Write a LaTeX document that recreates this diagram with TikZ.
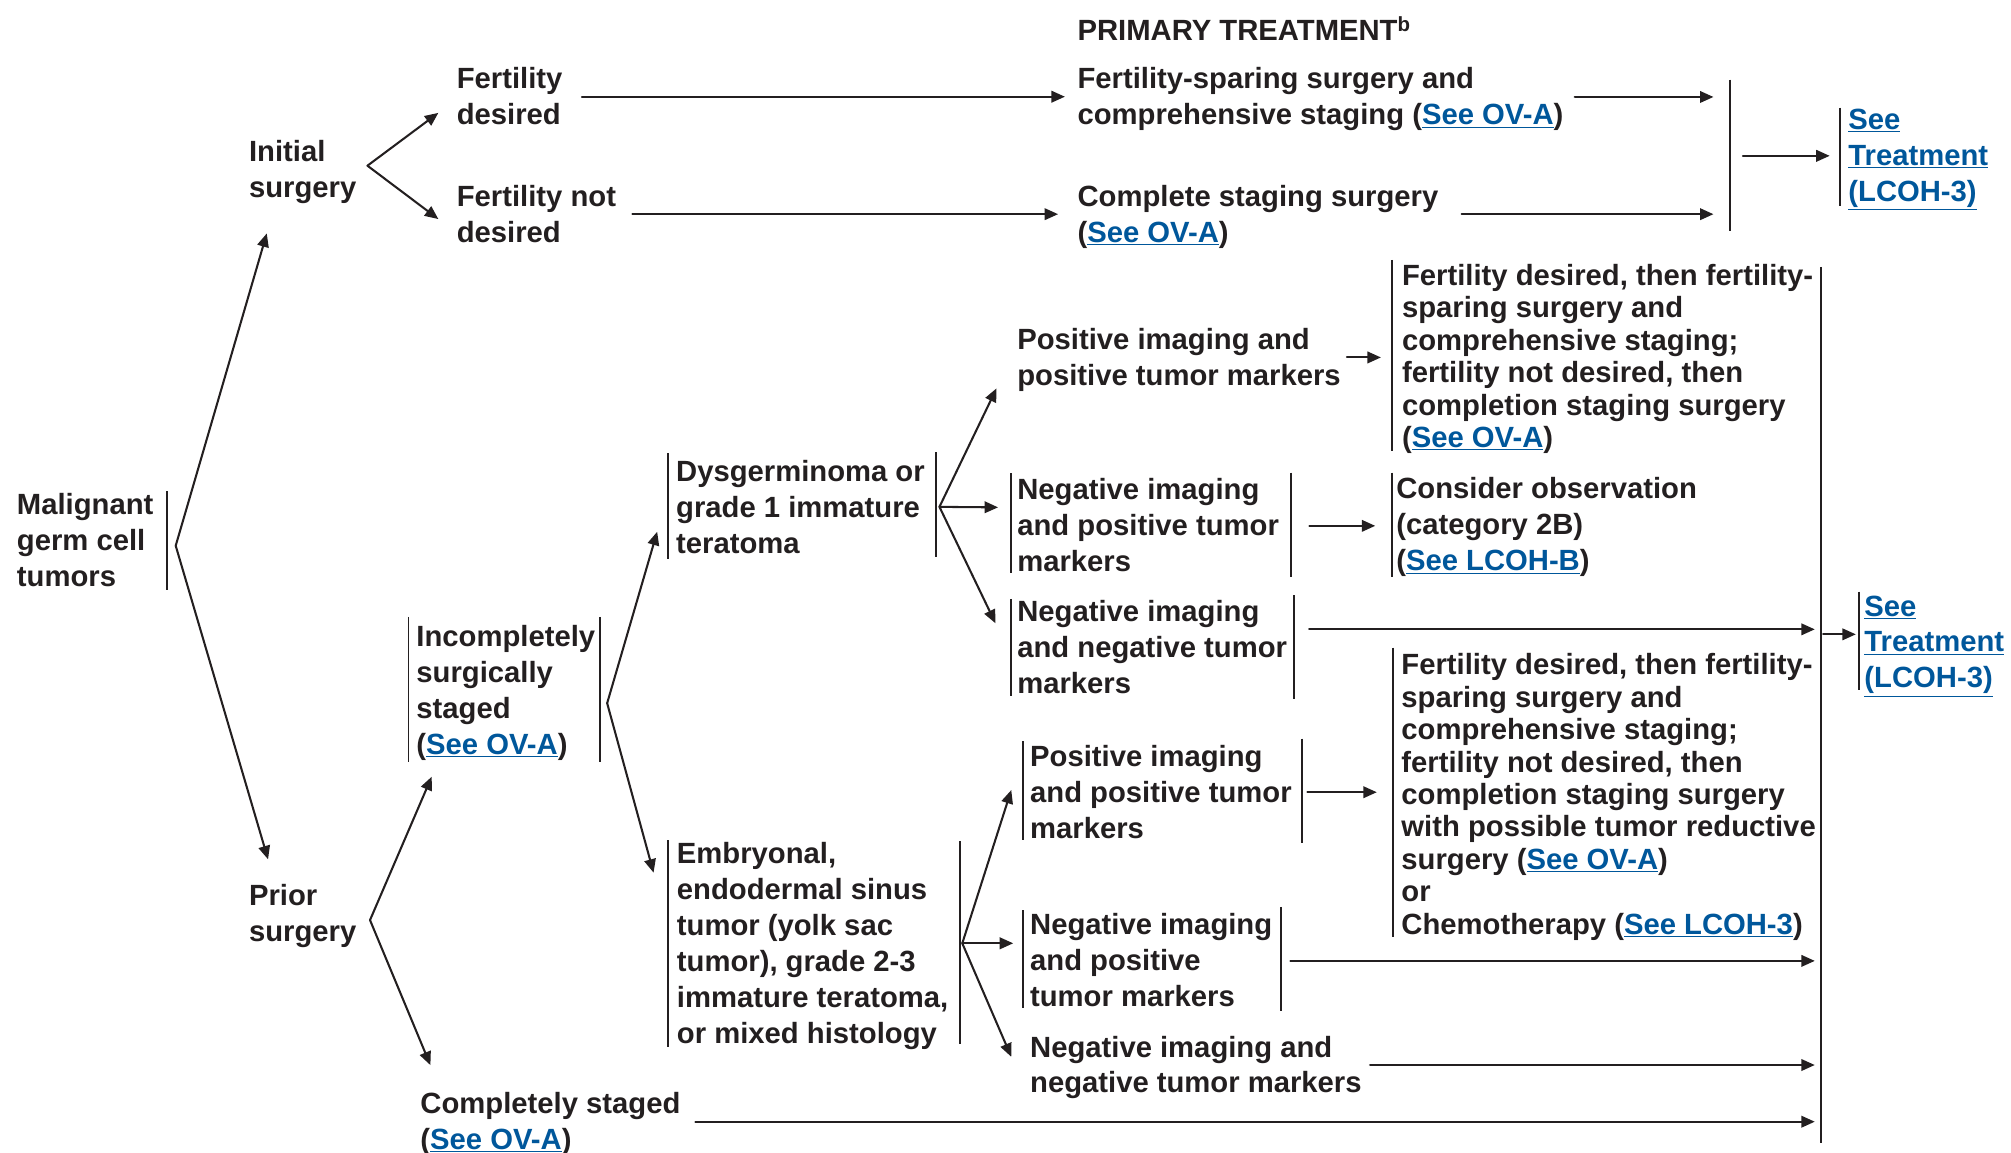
\documentclass[tikz,border=0pt]{standalone}
\usepackage{fontspec}
\setmainfont{Liberation Sans}
\usepackage{xcolor}
\usepackage{tikz}
\usetikzlibrary{arrows.meta}
\usetikzlibrary{positioning}

\definecolor{ink}{RGB}{35,31,32}
\definecolor{linkblue}{RGB}{0,87,155}
\newcommand{\seeref}[1]{\textcolor{linkblue}{\underline{#1}}}

\begin{document}
\begin{tikzpicture}[
    x=1pt, y=-1pt,
    txt/.style={anchor=west, align=left, inner sep=0pt, text=ink, text depth=1pt,
        font=\bfseries\fontsize{22.8}{28}\selectfont},
    tight/.style={font=\bfseries\fontsize{22.8}{25.3}\selectfont},
    arr/.style={draw=ink, line width=1.6pt, line cap=round, -{Triangle[length=10.5pt,width=9pt]}},
    bar/.style={draw=ink, line width=1.5pt}
]
\useasboundingbox (0,0) rectangle (1568,899);

% Start
\node[txt] (mgct) at (13,421.7) {Malignant\\germ cell\\tumors};
\node[txt] (init) at (194,132.5) {Initial\\surgery};
\node[txt] (prior) at (194,712) {Prior\\surgery};

% Initial surgery
\node[txt] (fdes) at (356,75.4) {Fertility\\desired};
\node[txt] (fnot) at (356,167) {Fertility not\\desired};
\node[txt] (title) at (840,22.9) {PRIMARY TREATMENT\textsuperscript{b}};
\node[txt] (fsp) at (840,75.6) {Fertility-sparing surgery and\\comprehensive staging (\seeref{See OV-A})};
\node[txt] (csurg) at (840,167) {Complete staging surgery\\(\seeref{See OV-A})};
\node[txt] (seetop) at (1441,121.5) {\seeref{See}\\\seeref{Treatment}\\\seeref{(LCOH-3)}};

% Prior surgery
\node[txt] (inc) at (324.5,538.6) {Incompletely\\surgically\\staged\\(\seeref{See OV-A})};
\node[txt] (cst) at (327.6,874.6) {Completely staged\\(\seeref{See OV-A})};
\node[txt] (dys) at (527,395.7) {Dysgerminoma or\\grade 1 immature\\teratoma};
\node[txt] (emb) at (527.6,735.9) {Embryonal,\\endodermal sinus\\tumor (yolk sac\\tumor), grade 2-3\\immature teratoma,\\or mixed histology};

% Dysgerminoma branch
\node[txt] (dpp) at (793,278.7) {Positive imaging and\\positive tumor markers};
\node[txt] (dnp) at (793,410) {Negative imaging\\and positive tumor\\markers};
\node[txt] (dnn) at (793,505) {Negative imaging\\and negative tumor\\markers};
\node[txt, tight] (fdb1) at (1093,278) {Fertility desired, then fertility-\\sparing surgery and\\comprehensive staging;\\fertility not desired, then\\completion staging surgery\\(\seeref{See OV-A})};
\node[txt] (cobs) at (1088.5,409.3) {Consider observation\\(category 2B)\\(\seeref{See LCOH-B})};
\node[txt] (seemid) at (1453.5,500.9) {\seeref{See}\\\seeref{Treatment}\\\seeref{(LCOH-3)}};

% Embryonal branch
\node[txt] (epp) at (803,617.7) {Positive imaging\\and positive tumor\\markers};
\node[txt] (enp) at (803,749.2) {Negative imaging\\and positive\\tumor markers};
\node[txt] (enn) at (803,830.4) {Negative imaging and\\negative tumor markers};
\node[txt, tight] (fdb2) at (1092.5,619.5) {Fertility desired, then fertility-\\sparing surgery and\\comprehensive staging;\\fertility not desired, then\\completion staging surgery\\with possible tumor reductive\\surgery (\seeref{See OV-A})\\or\\Chemotherapy (\seeref{See LCOH-3})};

% Fork points and tips
\coordinate (mgfork) at (137,425.5);
\coordinate (mgup) at (208,182);
\coordinate (mgdn) at (209,670);
\coordinate (initfork) at (286.5,129.2);
\coordinate (initup) at (341.8,88);
\coordinate (initdn) at (341.8,170.8);
\coordinate (priorfork) at (288.5,717.4);
\coordinate (priorup) at (336.6,605.6);
\coordinate (priordn) at (335.6,830.5);
\coordinate (incfork) at (473.4,548.3);
\coordinate (incup) at (512.4,414.6);
\coordinate (incdn) at (509.6,680.4);
\coordinate (dysfork) at (732.5,395.2);
\coordinate (dysup) at (777,302.8);
\coordinate (dysmid) at (778.2,395.6);
\coordinate (dysdn) at (776.2,486);
\coordinate (embfork) at (750.3,735.5);
\coordinate (embup) at (788.5,616);
\coordinate (embmid) at (790,735.5);
\coordinate (embdn) at (788.5,824);

% Collector bars
\coordinate (tbin) at (1336,0);
\coordinate (tbout) at (1359,121.5);
\coordinate (colin) at (1415,0);
\coordinate (colout) at (1421.5,494.6);
\coordinate (dnnout) at (1020.7,490.7);

% Forks
\draw[arr] (mgfork) -- (mgup);
\draw[arr] (mgfork) -- (mgdn);
\draw[arr] (initfork) -- (initup);
\draw[arr] (initfork) -- (initdn);
\draw[arr] (priorfork) -- (priorup);
\draw[arr] (priorfork) -- (priordn);
\draw[arr] (incfork) -- (incup);
\draw[arr] (incfork) -- (incdn);
\draw[arr] (dysfork) -- (dysup);
\draw[arr] (dysfork) -- (dysmid);
\draw[arr] (dysfork) -- (dysdn);
\draw[arr] (embfork) -- (embup);
\draw[arr] (embfork) -- (embmid);
\draw[arr] (embfork) -- (embdn);

% Horizontal arrows
\draw[arr, shorten <=15pt, shorten >=9.7pt] (fdes) -- (fdes -| fsp.west);
\draw[arr, shorten <=12.6pt, shorten >=15pt] (fnot) -- (fnot -| csurg.west);
\draw[arr, shorten <=8.6pt] (fsp.east) -- (fsp.east -| tbin);
\draw[arr, shorten <=18pt] (csurg.east) -- (csurg.east -| tbin);
\draw[arr, shorten >=14.4pt] (tbout) -- (seetop);
\draw[arr, shorten <=4.6pt, shorten >=16.3pt] (dpp) -- (dpp -| fdb1.west);
\draw[arr, shorten <=23.5pt, shorten >=16.2pt] (dnp) -- (dnp -| cobs.west);
\draw[arr] (dnnout) -- (dnnout -| colin);
\draw[arr, shorten >=6.5pt] (colout) -- (colout -| seemid.west);
\draw[arr, shorten <=12pt, shorten >=19pt] (epp) -- (epp -| fdb2.west);
\draw[arr, shorten <=14pt] (enp) -- (enp -| colin);
\draw[arr, shorten <=6.3pt] (enn) -- (enn -| colin);
\draw[arr, shorten <=11.4pt] (cst) -- (cst -| colin);

% Bars
\draw[bar] (130,383) -- (130,460);
\draw[bar] (318.5,481) -- (318.5,594);
\draw[bar] (468,481) -- (468,594);
\draw[bar] (520.8,353.5) -- (520.8,436);
\draw[bar] (729.6,352.5) -- (729.6,434.3);
\draw[bar] (521,655) -- (521,816);
\draw[bar] (748.6,656) -- (748.6,814);
\draw[bar] (788,369) -- (788,447);
\draw[bar] (1006.6,368.6) -- (1006.6,449.7);
\draw[bar] (788,467) -- (788,542.7);
\draw[bar] (1008.9,464) -- (1008.9,545.3);
\draw[bar] (797.6,578) -- (797.6,655);
\draw[bar] (1015,576) -- (1015,657);
\draw[bar] (797.6,709.6) -- (797.6,786);
\draw[bar] (999,707) -- (999,788);
\draw[bar] (1085.5,202.7) -- (1085.5,352);
\draw[bar] (1085.5,368.6) -- (1085.5,449.7);
\draw[bar] (1086,505) -- (1086,730.6);
\draw[bar] (1349,62) -- (1349,180);
\draw[bar] (1434.4,84) -- (1434.4,161);
\draw[bar] (1420,208) -- (1420,891);
\draw[bar] (1449.6,461.3) -- (1449.6,538);

\end{tikzpicture}
\end{document}
